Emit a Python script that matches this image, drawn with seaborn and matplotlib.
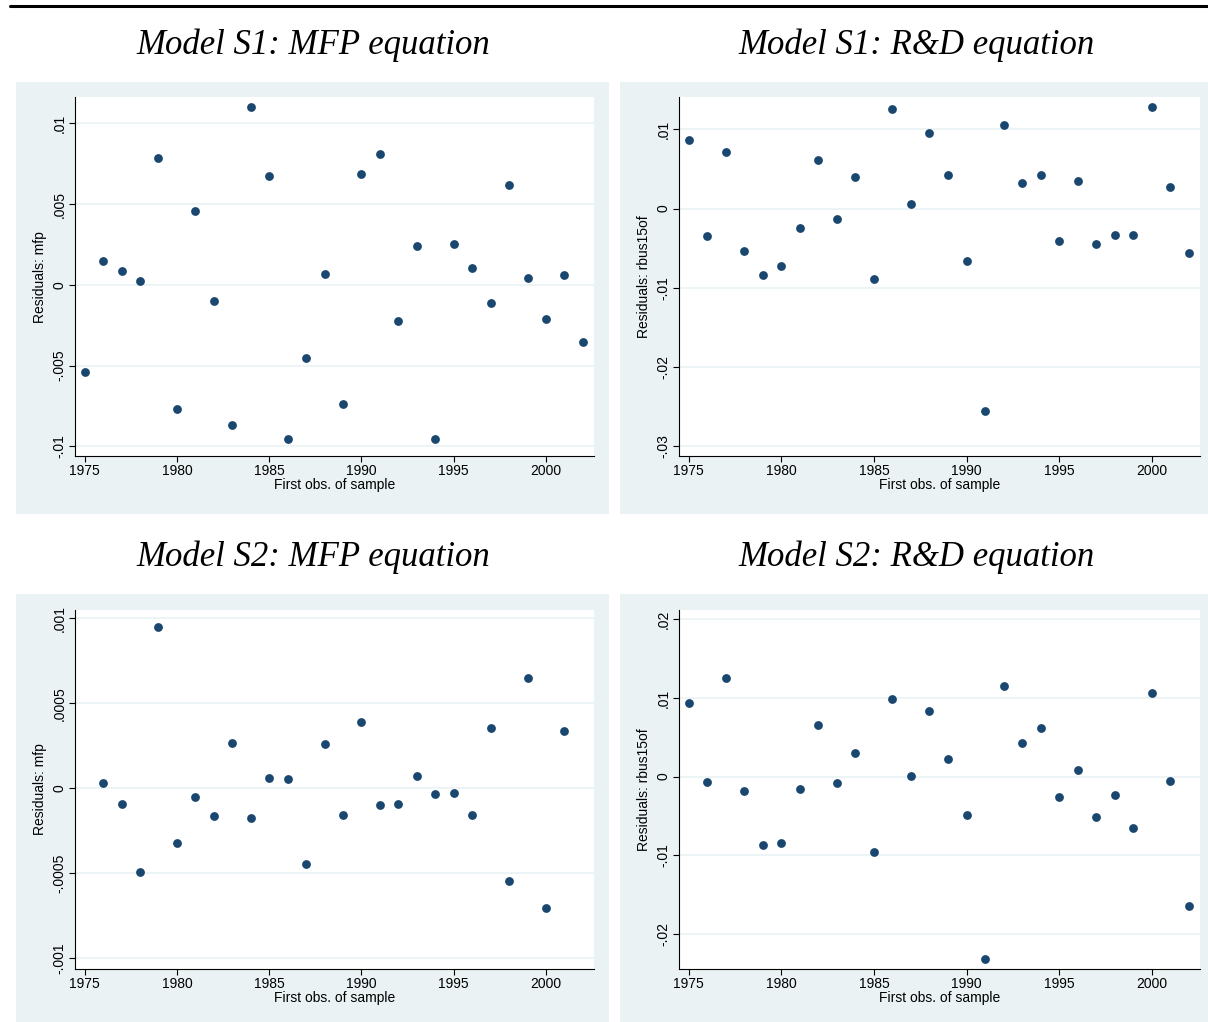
import numpy as np
import pandas as pd
import matplotlib
matplotlib.use("Agg")
import matplotlib.pyplot as plt
import seaborn as sns
from matplotlib.patches import Rectangle

# Residuals by first observation of sample
years = list(range(1975, 2003))

s1_mfp = [-0.00538, 0.0015, 0.00085, 0.00023, 0.00788, -0.00769, 0.00456, -0.0010,
          -0.00865, 0.01102, 0.00671, -0.00956, -0.00456, 0.00069, -0.0074, 0.00688,
          0.00813, -0.00221, 0.00242, -0.00956, 0.0025, 0.00106, -0.00113, 0.00617,
          0.00044, -0.00213, 0.0006, -0.00356]

s1_rd = [0.00864, -0.00352, 0.00708, -0.00538, -0.00839, -0.0072, -0.0025, 0.00614,
         -0.00131, 0.00403, -0.0089, 0.01254, 0.00051, 0.00949, 0.0042, -0.00657,
         -0.02547, 0.01051, 0.00322, 0.0042, -0.00403, 0.00347, -0.00453, -0.00335,
         -0.00335, 0.0128, 0.00271, -0.00555]

# S2 MFP has no 1975 / 2002 observation
s2_mfp = [np.nan, 3.2e-5, -9.1e-5, -4.92e-4, 9.51e-4, -3.2e-4, -5.3e-5, -1.64e-4,
          2.69e-4, -1.72e-4, 6.3e-5, 5.5e-5, -4.45e-4, 2.61e-4, -1.58e-4, 3.93e-4,
          -9.9e-5, -9.1e-5, 7.3e-5, -3.4e-5, -3.0e-5, -1.54e-4, 3.56e-4, -5.45e-4,
          6.52e-4, -7.02e-4, 3.38e-4, np.nan]

s2_rd = [0.00932, -0.00068, 0.01252, -0.00188, -0.00868, -0.0085, -0.00154, 0.00658,
         -0.00085, 0.00295, -0.00966, 0.00983, 0.00013, 0.00829, 0.00222, -0.00491,
         -0.02325, 0.01158, 0.00423, 0.00624, -0.00256, 0.00081, -0.00509, -0.00239,
         -0.00654, 0.01068, -0.0006, -0.01645]

titles = ["Model S1: MFP equation", "Model S1: R&D equation",
          "Model S2: MFP equation", "Model S2: R&D equation"]
ylabels = ["Residuals: mfp", "Residuals: rbus15of", "Residuals: mfp", "Residuals: rbus15of"]
yticks = [[-0.01, -0.005, 0, 0.005, 0.01],
          [-0.03, -0.02, -0.01, 0, 0.01],
          [-0.001, -0.0005, 0, 0.0005, 0.001],
          [-0.02, -0.01, 0, 0.01, 0.02]]
yticklabels = [["-.01", "-.005", "0", ".005", ".01"],
               ["-.03", "-.02", "-.01", "0", ".01"],
               ["-.001", "-.0005", "0", ".0005", ".001"],
               ["-.02", "-.01", "0", ".01", ".02"]]
ylims = [(-0.0106, 0.0116), (-0.0312, 0.0140), (-0.00106, 0.00105), (-0.02444, 0.0212)]
series = [s1_mfp, s1_rd, s2_mfp, s2_rd]

sns.set_theme(style="white")
plt.rcParams['font.family'] = ['Liberation Sans', 'DejaVu Sans']
plt.rcParams['text.color'] = 'black'
plt.rcParams['axes.labelcolor'] = 'black'

W, H = 1208, 1022
fig = plt.figure(figsize=(W / 100, H / 100), dpi=100)

def fx(px):
    return px / W

def fy(py):
    return 1 - py / H

bg = "#eaf2f3"
navy = "#1a476f"

# top rule
fig.add_artist(plt.Line2D([fx(10), fx(1208)], [fy(6), fy(6)], color="black", lw=2.2))

# panel backgrounds (px: x0, y0, x1, y1)
panels = [(16, 82, 609, 514), (620, 82, 1208, 514), (16, 594, 609, 1022), (620, 594, 1208, 1022)]
plots = [(75, 97.5, 594, 456), (679, 97.5, 1200, 456), (75, 610, 594, 968.5), (679, 610, 1200, 968.5)]
title_pos = [(313, 45), (917, 45), (313, 557), (917, 557)]

for i in range(4):
    x0, y0, x1, y1 = panels[i]
    fig.patches.append(Rectangle((fx(x0), fy(y1)), fx(x1 - x0), (y1 - y0) / H,
                                 transform=fig.transFigure, facecolor=bg, edgecolor="none", zorder=-10))
    tx, ty = title_pos[i]
    fig.text(fx(tx), fy(ty), titles[i], family=['Liberation Serif'], style='italic',
             fontsize=25, ha='center', va='center', color='black')

    a0, b0, a1, b1 = plots[i]
    ax = fig.add_axes([fx(a0), fy(b1), fx(a1 - a0), (b1 - b0) / H])
    ax.set_zorder(5)
    df = pd.DataFrame({"year": years, "resid": series[i]}).dropna()
    sns.scatterplot(data=df, x="year", y="resid", ax=ax, color=navy, s=40,
                    edgecolor=navy, linewidth=0, zorder=3)
    ax.set_xlim(1974.48, 2002.6)
    ax.set_ylim(*ylims[i])
    ax.set_xticks([1975, 1980, 1985, 1990, 1995, 2000])
    ax.set_xticklabels(["1975", "1980", "1985", "1990", "1995", "2000"], fontsize=10)
    ax.set_yticks(yticks[i])
    ax.set_yticklabels(yticklabels[i], fontsize=10, rotation=90, va='center')
    for yv in yticks[i]:
        ax.axhline(yv, color=bg, lw=1.2, zorder=1)
    ax.set_xlabel("First obs. of sample", fontsize=10, labelpad=0)
    ax.set_ylabel(ylabels[i], fontsize=10, labelpad=4)
    ax.set_facecolor("white")
    for sp in ["top", "right"]:
        ax.spines[sp].set_visible(False)
    for sp in ["left", "bottom"]:
        ax.spines[sp].set_color("black")
        ax.spines[sp].set_linewidth(0.8)
    ax.tick_params(axis='both', which='both', direction='out', length=4, width=0.8,
                   color='black', pad=2, left=True, bottom=True, labelcolor='black')

fig.savefig("out.png", dpi=100)
